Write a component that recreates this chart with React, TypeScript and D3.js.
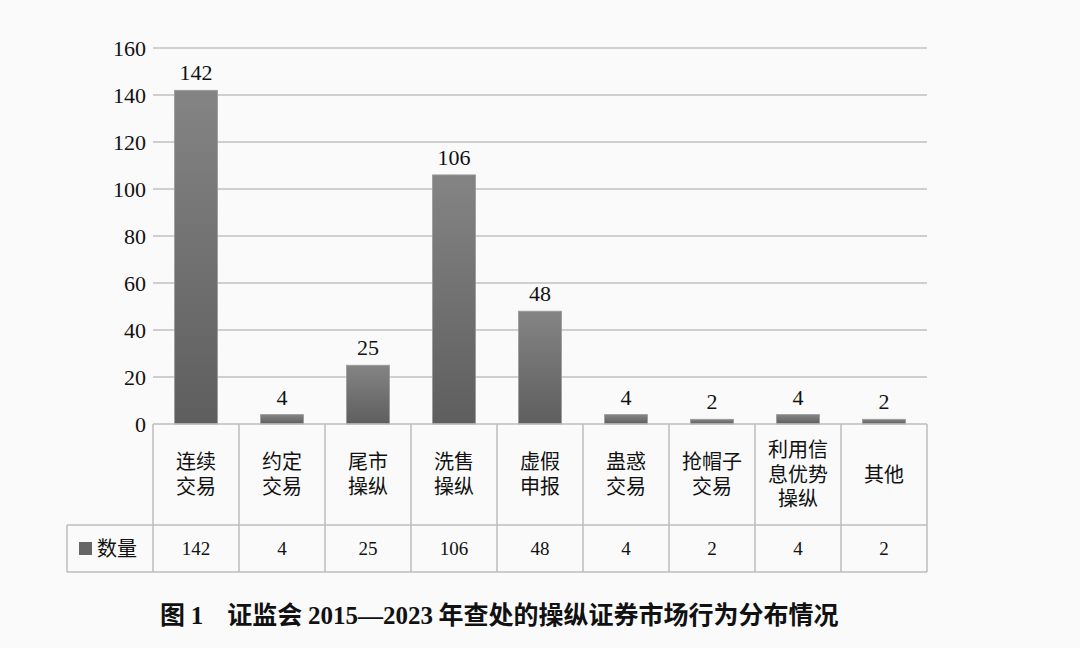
import React from "react";
import * as d3 from "d3";

const categories: string[][] = [
  ["连续", "交易"],
  ["约定", "交易"],
  ["尾市", "操纵"],
  ["洗售", "操纵"],
  ["虚假", "申报"],
  ["蛊惑", "交易"],
  ["抢帽子", "交易"],
  ["利用信", "息优势", "操纵"],
  ["其他"],
];
const values: number[] = [142, 4, 25, 106, 48, 4, 2, 4, 2];
const yTicks: number[] = [0, 20, 40, 60, 80, 100, 120, 140, 160];
const seriesName = "数量";

const W = 1080, H = 648;
const left = 153, right = 927, top = 48, bottom = 424;
const catRowBottom = 525, dataRowBottom = 572, legendLeft = 67;

export default function App() {
  const x = d3.scaleBand<number>().domain(values.map((_, i) => i)).range([left, right]).paddingInner(0).paddingOuter(0);
  const y = d3.scaleLinear().domain([0, 160]).range([bottom, top]);
  const bw = x.bandwidth();
  const barW = bw * 0.5;
  const serif = "'Liberation Serif', 'Times New Roman', serif";
  const cjk = "'Noto Sans CJK SC', sans-serif";
  const grid = "#c0c0c0";
  const tableLine = "#bdbdbd";
  return (
    <svg width={W} height={H} style={{ position: "absolute", left: 0, top: 0, background: "#fafafa" }}>
      <defs>
        <linearGradient id="barg" x1="0" y1="0" x2="0" y2="1">
          <stop offset="0%" stopColor="#848484" />
          <stop offset="100%" stopColor="#5e5e5e" />
        </linearGradient>
      </defs>
      <rect x={0} y={0} width={W} height={H} fill="#fafafa" />
      {yTicks.map((t) => (
        <g key={t}>
          {t > 0 && <line x1={left} x2={right} y1={y(t)} y2={y(t)} stroke={grid} strokeWidth={1.5} />}
          <text x={left - 7} y={y(t)} dy="0.35em" textAnchor="end" fontFamily={serif} fontSize={22} fill="#111">{t}</text>
        </g>
      ))}
      {values.map((v, i) => {
        const cx = (x(i) as number) + bw / 2;
        return (
          <g key={i}>
            <rect x={cx - barW / 2} y={y(v)} width={barW} height={bottom - y(v)} fill="url(#barg)" stroke="#9a9a9a" strokeWidth={0.8} />
            <text x={cx} y={y(v) - 10} textAnchor="middle" fontFamily={serif} fontSize={22} fill="#111">{v}</text>
          </g>
        );
      })}
      <g fill="none" stroke={tableLine} strokeWidth={1.5}>
        <line x1={left} x2={right} y1={bottom} y2={bottom} />
        <line x1={legendLeft} x2={right} y1={catRowBottom} y2={catRowBottom} />
        <line x1={legendLeft} x2={right} y1={dataRowBottom} y2={dataRowBottom} />
        <line x1={legendLeft} x2={legendLeft} y1={catRowBottom} y2={dataRowBottom} />
        {d3.range(values.length + 1).map((i) => {
          const xx = i < values.length ? (x(i) as number) : right;
          return <line key={i} x1={xx} x2={xx} y1={bottom} y2={dataRowBottom} />;
        })}
      </g>
      {categories.map((lines, i) => {
        const cx = (x(i) as number) + bw / 2;
        const lh = 24.5;
        const mid = (bottom + catRowBottom) / 2;
        const start = mid - ((lines.length - 1) * lh) / 2;
        return (
          <text key={i} textAnchor="middle" fontFamily={cjk} fontSize={20} fill="#111">
            {lines.map((l, j) => (
              <tspan key={j} x={cx} y={start + j * lh} dy="0.36em">{l}</tspan>
            ))}
          </text>
        );
      })}
      {values.map((v, i) => (
        <text key={i} x={(x(i) as number) + bw / 2} y={(catRowBottom + dataRowBottom) / 2} dy="0.35em" textAnchor="middle" fontFamily={serif} fontSize={19} fill="#111">{v}</text>
      ))}
      <rect x={79} y={542} width={13} height={13} fill="#666" />
      <text x={97} y={(catRowBottom + dataRowBottom) / 2} dy="0.36em" fontFamily={cjk} fontSize={20} fill="#111">{seriesName}</text>
      <text x={160} y={624} fontSize={25} fill="#111" fontWeight="bold" fontFamily={cjk}>
        <tspan>图 </tspan>
        <tspan fontFamily={serif}>1</tspan>
        <tspan dx={24}>证监会 </tspan>
        <tspan fontFamily={serif}>2015—2023</tspan>
        <tspan> 年查处的操纵证券市场行为分布情况</tspan>
      </text>
    </svg>
  );
}
